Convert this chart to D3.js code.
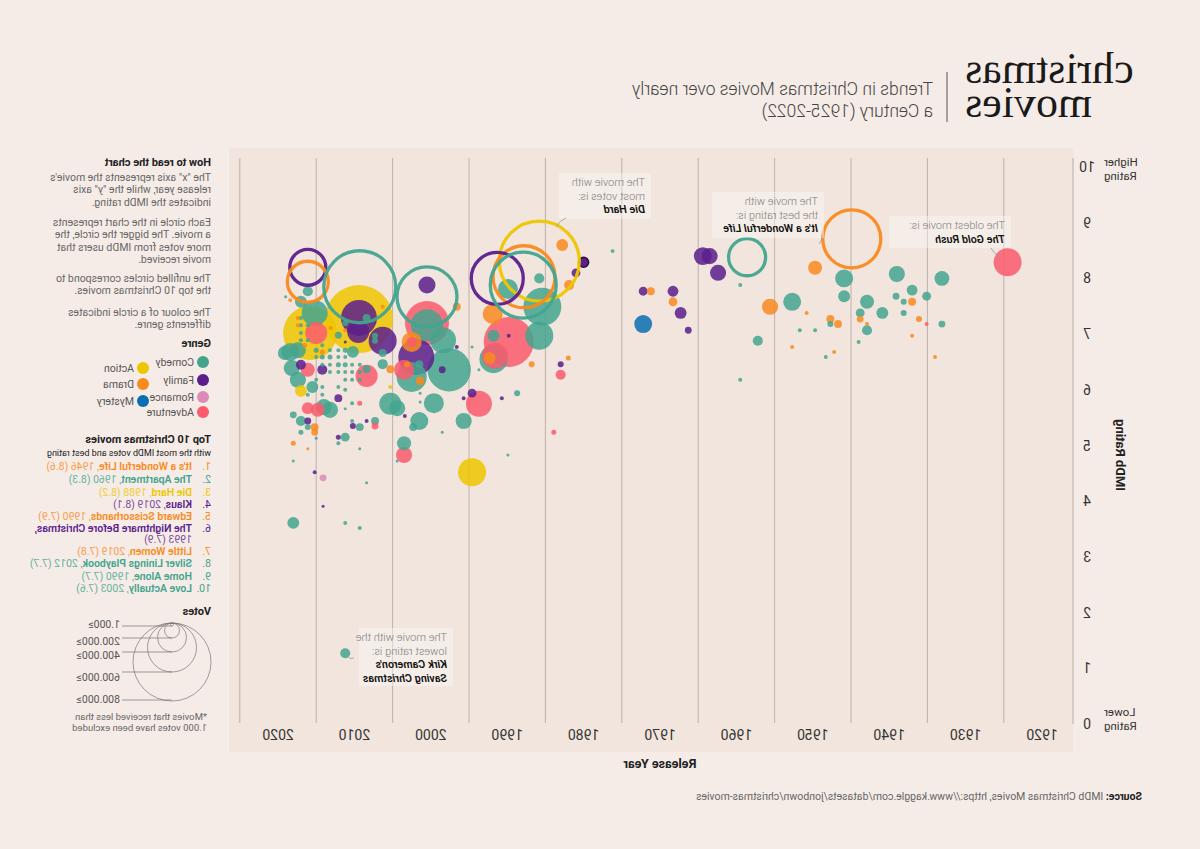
<!DOCTYPE html>
<html><head><meta charset="utf-8">
<script src="https://cdn.jsdelivr.net/npm/d3@7"></script>
<style>
html,body{margin:0;padding:0;background:#f5ece7;}
svg{display:block;font-family:Roboto,"Noto Sans",sans-serif;}
</style></head><body>
<svg id="chart" width="1200" height="849"></svg>
<script>
// ---------- DATA ----------
const genreNames  = ["Comedy","Family","Romance","Adventure","Action","Drama","Mystery"];
const genreColors = ["#43a48e","#5b1e8c","#dc8cb6","#fb5b6c","#eec600","#f98a1e","#0b6db2"];
const xTickYears  = [1920,1930,1940,1950,1960,1970,1980,1990,2000,2010,2020];
const gridYears   = [1925,1935,1945,1955,1965,1975,1985,1995,2005,2015,2025];
const yTickValues = [0,1,2,3,4,5,6,7,8,9,10];

// [year, rating, votes (thousands)]
const comedy = [
 [1933.1,8.0,28],[1935.1,7.68,10],[1937.0,7.79,15],[1939.0,8.08,33],[1939.1,7.68,6],[1938.1,7.58,4.6],
 [1938.1,7.38,4.6],[1933.1,7.18,6],[1940.9,7.38,18],[1942.9,7.58,25],[1943.8,7.38,10],[1942.9,7.07,13],
 [1944.0,6.86,2],[1945.9,8.0,41],[1945.9,7.68,18],[1947.7,7.18,4.6],[1951.7,7.07,2],[1949.7,7.07,2],
 [1959.5,7.88,2],[1952.7,7.58,41],[1957.2,6.88,13],[1959.5,6.18,2],[1948.3,6.59,2],[1976.2,8.49,2],
 [1985.8,8.0,13],[1989.9,7.81,51],[1985.4,7.49,184],[1985.8,6.97,100],[1991.8,6.97,18],[1991.8,6.55,100],
 [1994.6,6.77,1.1],[1993.7,6.36,1.1],[1988.7,5.94,4.6],[1995.7,5.44,33],[1989.9,4.83,1.1],[1998.5,5.24,1.1],
 [2000.5,7.16,131],[1998.4,6.89,86],[2002.5,6.23,115],[1997.6,6.36,240],[2001.5,6.46,8],[2006.3,6.46,13],
 [2008.4,6.37,8],[2005.3,5.75,62],[2004.4,5.67,33],[1999.6,5.76,51],[2001.5,5.44,41],[2002.3,5.33,8],
 [2001.4,5.78,1.1],[2011.2,5.15,10],[2007.3,5.44,8],[2009.3,5.33,8],[2010.3,5.76,2],[2010.3,5.44,2],
 [2001.4,5.94,1.1],[2010.2,6.68,18],[2008.4,7.29,8],[2007.3,6.97,4.6],[2007.3,6.88,4.6],[2006.3,6.66,8],
 [2011.2,7.2,4.6],[2012.1,6.98,6],[2016.1,7.77,13],[2017.0,7.58,18],[2015.2,7.38,86],[2018.4,6.68,41],
 [2017.4,6.71,33],[2019.1,6.66,25],[2018.2,6.39,33],[2017.4,6.18,33],[2015.5,6.05,18],[2014.0,5.69,33],
 [2013.2,5.64,33],[2018.0,5.55,6],[2017.0,5.44,12.8],[2016.1,5.33,4.6],[2017.0,5.24,3.2],[2015.0,5.13,1.1],
 [2011.2,5.66,1.1],[2012.1,5.04,2],[2009.3,4.94,1.1],[2018.0,4.72,1.1],[2018.0,3.61,18],[2011.2,3.61,2],
 [2009.3,3.52,2],[2008.4,4.33,1.1],[2004.4,4.72,1.1],[2003.5,5.04,25],[2011.2,1.27,12.8],[2019.0,7.67,1.1],
 [2017.0,7.29,2],[2017.0,7.16,2],[2017.0,7.02,2],[2017.0,6.89,2],[2016.1,7.16,2],[2016.1,6.89,2],
 [2015.0,6.71,3.2],[2015.0,6.59,2],[2014.2,6.80,2],[2014.2,6.59,3.2],[2014.2,6.45,2],[2013.2,6.71,2],
 [2013.2,6.59,3.2],[2013.2,6.45,2],[2013.2,6.32,2],[2012.1,6.71,2],[2012.1,6.59,2],[2012.1,6.45,3.2],
 [2012.1,6.32,2],[2011.2,6.71,3.2],[2011.2,6.59,2],[2011.2,6.45,3.2],[2011.2,6.32,2],[2011.2,6.18,2],
 [2010.3,6.45,2],[2010.3,6.32,2],[2010.3,6.18,2],[2009.3,6.45,2],[2009.3,6.32,2],[2009.3,6.18,2],
 [2015.0,6.18,2],[2014.2,6.05,2],[2012.1,6.05,2],[2011.2,6.0,2],[2016.1,5.91,2],[2014.2,5.91,2]
];
const family = [
 [1964.4,8.40,41],[1963.5,8.40,33],[1962.4,8.10,33],[1972.2,7.77,10],[1968.3,7.77,15],[1967.3,7.38,18],
 [1966.3,7.07,6],[1980.0,8.29,13],[1981.0,8.10,10],[1989.8,6.97,2],[1983.0,6.46,4.6],[1994.6,5.94,10],
 [1995.7,5.85,2],[1990.7,5.85,2],[2000.5,7.88,37],[2001.9,6.59,165],[1998.5,6.36,6],[1996.6,6.77,2],
 [2003.4,5.53,2],[2009.4,7.29,165],[2009.5,7.04,62],[2006.3,6.88,100],[2010.2,5.35,4.6],[2017.0,6.45,12.8],
 [2014.2,6.36,12.8],[2012.1,5.85,8],[2016.1,5.44,6],[2012.1,5.15,3.2],[2015.2,4.52,2],[2014.1,3.91,1.1],
 [2008.4,5.44,2],[2011.2,6.86,1.1]
];
const romance = [[2014.1,4.42,6]];
const adventure = [
 [1924.5,8.29,100],[1935.1,7.18,2],[1989.8,6.86,319],[1991.6,6.61,86],[1983.0,6.27,12.8],[1993.7,5.75,86],
 [1983.9,5.24,3.2],[2000.5,7.20,247],[2002.5,6.86,12.8],[2003.5,6.36,51],[2008.4,6.25,62],[2007.3,5.35,6],
 [2009.3,5.76,3.2],[2015.0,7.02,62],[2016.1,6.36,25],[2016.1,5.67,18],[2014.8,5.64,25],[2003.5,4.83,33]
];
const action = [[2009.4,7.27,590],[2015.8,7.02,372],[1994.6,4.52,100],[2017.0,5.98,18],[2005.3,6.05,2]];
const drama = [
 [1937.0,7.58,8],[1936.1,7.27,4.6],[1937.0,6.97,2],[1942.9,7.18,2],[1943.8,7.27,6],[1946.7,7.18,8],
 [1947.7,7.27,8],[1950.8,7.38,2],[1949.7,8.19,25],[1955.6,7.49,33],[1952.7,6.77,2],[1947.2,6.68,2],
 [1934.0,6.59,2],[1971.2,7.77,8],[1968.3,7.58,10],[1982.8,8.60,18],[1981.9,7.88,12.8],[1991.9,7.36,51],
 [1992.3,6.57,18],[1986.8,6.46,4.6],[1982.0,6.57,3.2],[1996.6,7.49,8],[2002.5,6.86,51],[2001.4,6.16,10],
 [2003.1,6.46,4.6],[2005.3,6.37,8],[2015.2,5.33,8],[2015.2,5.24,6],[2018.0,5.04,3.2],[2016.1,4.94,1.1],
 [2006.3,7.49,2],[2017.4,7.29,2],[2017.4,7.16,2],[2013.1,7.11,2],[2011.2,7.07,2],[2016.5,6.80,3.2],
 [2014.2,6.68,3.2],[2018.4,7.61,2]
];
const mystery = [[1972.2,7.18,41]];
const outlinedMovie = [1980.0,8.29,13];

// Top 10 (unfilled circles)
const top10Names   = ["It's a Wonderful Life","The Apartment","Die Hard","Klaus","Edward Scissorhands",
                      "The Nightmare Before Christmas,","Little Women","Silver Linings Playbook","Home Alone","Love Actually"];
const top10Labels  = [", 1946 (8.6)",", 1960 (8.3)",", 1988 (8.2)",", 2019 (8.1)",", 1990 (7.9)",
                      "1993 (7.9)",", 2019 (7.8)",", 2012 (7.7)",", 1990 (7.7)",", 2003 (7.6)"];
const top10Genre   = ["Drama","Comedy","Action","Family","Drama","Family","Drama","Comedy","Comedy","Comedy"];
const top10Year    = [1944.9,1958.6,1985.8,2016.1,1987.8,1991.3,2016.1,2009.3,1987.9,2000.5];
const top10Rating  = [8.71,8.38,8.31,8.20,8.03,8.0,7.94,7.85,7.88,7.67];
const top10Votes   = [429,175,816,165,490,345,214,661,555,459];

const voteLegendValues = [1,200,400,600,800];
const voteLegendLabels = ["1.000≥","200.000≥","400.000≥","600.000≥","800.000≥"];
const voteLegendRadii  = [1.5,7.5,14.5,24.5,39];

// ---------- SETUP ----------
const color = d3.scaleOrdinal().domain(genreNames).range(genreColors);
const x = d3.scaleLinear().domain([1920,2020]).range([158,922]);
const y = d3.scaleLinear().domain([0,10]).range([724,167]);
const r = d3.scaleSqrt().domain([0,900]).range([0,42]);

const svg = d3.select("#chart");
svg.append("rect").attr("width",1200).attr("height",849).attr("fill","#f5ece7");
const g = svg.append("g").attr("transform","translate(1200,0) scale(-1,1)");

// plot panel
g.append("rect").attr("x",127).attr("y",148).attr("width",844).attr("height",604).attr("fill","#f1e5dd");

// gridlines
g.append("g").selectAll("line").data(gridYears).join("line")
  .attr("x1",d=>x(d)).attr("x2",d=>x(d)).attr("y1",158).attr("y2",723)
  .attr("stroke","#b9aca6").attr("stroke-width",0.9);

// y axis line
g.append("line").attr("x1",127).attr("x2",127).attr("y1",158).attr("y2",724)
  .attr("stroke","#b9aca6").attr("stroke-width",1);

// y ticks
g.append("g").selectAll("text").data(yTickValues).join("text")
  .attr("x",113).attr("y",d=>y(d)+5).attr("text-anchor","middle")
  .attr("font-size",14).attr("fill","#333").text(d=>d);
const hl = g.append("g").attr("font-size",11.5).attr("fill","#333").attr("text-anchor","end");
hl.append("text").attr("x",96).attr("y",166).text("Higher");
hl.append("text").attr("x",96).attr("y",180).text("Rating");
hl.append("text").attr("x",96).attr("y",716).text("Lower");
hl.append("text").attr("x",96).attr("y",730).text("Rating");
g.append("text").attr("transform","translate(84,455) rotate(-90)").attr("text-anchor","middle")
  .attr("font-size",13).attr("font-weight",700).attr("fill","#222").text("IMDb Rating");

// x ticks
g.append("g").selectAll("text").data(xTickYears).join("text")
  .attr("x",d=>x(d)).attr("y",740).attr("text-anchor","middle")
  .attr("font-size",14).attr("fill","#333").text(d=>d);
g.append("text").attr("x",540).attr("y",768).attr("text-anchor","middle")
  .attr("font-size",12.5).attr("font-weight",700).attr("fill","#222").text("Release Year");

// source
const src = g.append("text").attr("x",58).attr("y",800).attr("font-size",10.5).attr("fill","#666");
src.append("tspan").attr("font-weight",700).attr("fill","#222").text("Source: ");
src.append("tspan").text("IMDb Christmas Movies, https://www.kaggle.com/datasets/jonbown/christmas-movies");

// ---------- MOVIES ----------
const allMovies = [];
[[comedy,"Comedy"],[family,"Family"],[romance,"Romance"],[adventure,"Adventure"],[action,"Action"],[drama,"Drama"],[mystery,"Mystery"]]
  .forEach(([arr,gname])=>arr.forEach(d=>allMovies.push({year:d[0],rating:d[1],votes:d[2],genre:gname})));
allMovies.sort((a,b)=>b.votes-a.votes);
g.append("g").selectAll("circle").data(allMovies).join("circle")
  .attr("cx",d=>x(d.year)).attr("cy",d=>y(d.rating)).attr("r",d=>Math.max(1.5,r(d.votes)))
  .attr("fill",d=>color(d.genre)).attr("fill-opacity",0.85);
g.append("circle").attr("cx",x(outlinedMovie[0])).attr("cy",y(outlinedMovie[1])).attr("r",r(outlinedMovie[2]))
  .attr("fill",color("Family")).attr("stroke","#2b0d3d").attr("stroke-width",1.5);

// top10 rings
const topData = top10Names.map((n,i)=>({name:n,genre:top10Genre[i],year:top10Year[i],rating:top10Rating[i],votes:top10Votes[i]}));
g.append("g").selectAll("circle").data(topData).join("circle")
  .attr("cx",d=>x(d.year)).attr("cy",d=>y(d.rating)).attr("r",d=>r(d.votes))
  .attr("fill","none").attr("stroke",d=>color(d.genre)).attr("stroke-width",3.3).attr("stroke-opacity",0.95);

// ---------- ANNOTATIONS ----------
function annot(xx, yy, lines, boldFrom, box){
  const a = g.append("g");
  a.append("rect").attr("x",box[0]).attr("y",box[1]).attr("width",box[2]).attr("height",box[3])
   .attr("fill","#fbf6f3").attr("fill-opacity",0.45);
  lines.forEach((t,i)=>{
    a.append("text").attr("x",xx).attr("y",yy+i*13.5).attr("font-size",11)
     .attr("fill",i>=boldFrom?"#111":"#808080").attr("font-weight",i>=boldFrom?600:300)
     .attr("font-style",i>=boldFrom?"italic":"normal").text(t);
  });
}
annot(555,186,["The movie with","most votes is:","Die Hard"],2,[549,173,92,46]);
annot(382,205,["The movie with","the best rating is:","It's a Wonderful Life"],2,[376,192,112,46]);
annot(195,229,["The oldest movie is:","The Gold Rush"],1,[189,216,122,32]);
annot(753,641,["The movie with the","lowest rating is:","Kirk Cameron's","Saving Christmas"],2,[747,628,94,58]);
const lead = g.append("g").attr("fill","none").attr("stroke","#999").attr("stroke-width",0.8);
lead.append("path").attr("d","M634,218 Q640,220 644,227");
lead.append("path").attr("d","M378,235 Q377,240 381,244");
lead.append("path").attr("d","M209,248 Q207,253 200,257");
lead.append("path").attr("d","M853,656 Q850,660 846,658");

// ---------- TITLE ----------
const tt = g.append("g").attr("font-family","'Liberation Serif','DejaVu Serif',serif").attr("font-size",44)
  .attr("fill","#1a1a1a").attr("text-anchor","end");
tt.append("text").attr("x",235).attr("y",83).text("christmas");
tt.append("text").attr("x",235).attr("y",117).text("movies");
g.append("line").attr("x1",253).attr("x2",253).attr("y1",72).attr("y2",122).attr("stroke","#555").attr("stroke-width",1);
const st = g.append("g").attr("font-size",17.5).attr("font-weight",300).attr("fill","#444");
st.append("text").attr("x",267).attr("y",95).text("Trends in Christmas Movies over nearly");
st.append("text").attr("x",267).attr("y",117).text("a Century (1925-2022)");

// ---------- SIDE PANEL ----------
const L = 989;
const side = g.append("g").attr("font-size",10.5).attr("fill","#666");
side.append("text").attr("x",L).attr("y",166).attr("font-weight",700).attr("fill","#222").attr("font-size",11).text("How to read the chart");
const paras = [
 [181,["The \"x\" axis represents the movie's","release year, while the \"y\" axis","indicates the IMDb rating."]],
 [226,["Each circle in the chart represents","a movie. The bigger the circle, the","more votes from IMDb users that","movie received."]],
 [282,["The unfilled circles correspond to","the top 10 Christmas movies."]],
 [316,["The colour of a circle indicates","differents genre."]]
];
paras.forEach(([y0,ls])=>ls.forEach((t,i)=>side.append("text").attr("x",L).attr("y",y0+i*12.3).text(t)));
side.append("text").attr("x",L).attr("y",347).attr("font-weight",700).attr("fill","#222").attr("font-size",11).text("Genre");
const legendPos = [[997,362],[997,380],[997,397],[997,412],[1057,368],[1057,384],[1057,401]];
genreNames.forEach((gn,i)=>{
  side.append("circle").attr("cx",legendPos[i][0]).attr("cy",legendPos[i][1]).attr("r",6).attr("fill",color(gn));
  side.append("text").attr("x",legendPos[i][0]+9).attr("y",legendPos[i][1]+4).attr("fill","#555").text(gn);
});
side.append("text").attr("x",L).attr("y",443).attr("font-weight",700).attr("fill","#222").attr("font-size",11).text("Top 10 Christmas movies");
side.append("text").attr("x",L).attr("y",456).attr("font-size",9).attr("fill","#222").text("with the most IMDb votes and best rating");
const rowY = [470,483,496,508,520,532,555,567,580,592];
top10Names.forEach((n,i)=>{
  const c = color(top10Genre[i]);
  side.append("text").attr("x",L).attr("y",rowY[i]).attr("fill",c).text((i+1)+".");
  const t = side.append("text").attr("x",1008).attr("y",rowY[i]).attr("fill",c);
  t.append("tspan").attr("font-weight",600).text(n);
  if(i===5){
    side.append("text").attr("x",1008).attr("y",543).attr("fill",c).attr("opacity",0.8).text(top10Labels[i]);
  } else {
    t.append("tspan").attr("opacity",0.8).text(top10Labels[i]);
  }
});
side.append("text").attr("x",L).attr("y",615).attr("font-weight",700).attr("fill","#222").attr("font-size",11).text("Votes");
const lineY = [626,638,652,672,700];
const labY  = [628,645,659,681,703];
voteLegendValues.forEach((v,i)=>{
  side.append("circle").attr("cx",1028).attr("cy",623+voteLegendRadii[i]).attr("r",voteLegendRadii[i])
    .attr("fill","none").attr("stroke","#777").attr("stroke-width",0.7);
  side.append("line").attr("x1",1028).attr("x2",1078).attr("y1",lineY[i]).attr("y2",lineY[i])
    .attr("stroke","#777").attr("stroke-width",0.7);
  side.append("text").attr("x",1080).attr("y",labY[i]).attr("fill","#555").attr("font-size",10.5).text(voteLegendLabels[i]);
});
side.append("text").attr("x",993).attr("y",720).attr("font-size",9.5).text("*Movies that received less than");
side.append("text").attr("x",993).attr("y",731).attr("font-size",9.5).text("1.000 votes have been excluded");
</script></body></html>
